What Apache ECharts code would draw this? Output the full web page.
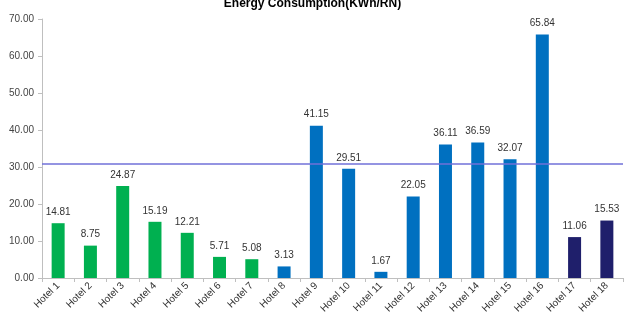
<!DOCTYPE html>
<html>
<head>
<meta charset="utf-8">
<script src="https://cdn.jsdelivr.net/npm/echarts@6/dist/echarts.min.js"></script>
<style>
html,body{margin:0;padding:0;background:#fff;}
#chart{width:625px;height:316px;}
</style>
</head>
<body>
<div id="chart"></div>
<script>
// 酒店名称
const hotels = ['Hotel 1','Hotel 2','Hotel 3','Hotel 4','Hotel 5','Hotel 6','Hotel 7','Hotel 8','Hotel 9',
  'Hotel 10','Hotel 11','Hotel 12','Hotel 13','Hotel 14','Hotel 15','Hotel 16','Hotel 17','Hotel 18'];
// 能耗值
const values = [14.81,8.75,24.87,15.19,12.21,5.71,5.08,3.13,41.15,29.51,1.67,22.05,36.11,36.59,32.07,65.84,11.06,15.53];
// 每根柱子的分组 (g=绿, b=蓝, n=深蓝)
const groups = ['g','g','g','g','g','g','g','b','b','b','b','b','b','b','b','b','n','n'];
const benchmark = 31;

const colorMap = {g:'#00B050', b:'#0070C0', n:'#1F1F6B'};

let mycharts = echarts.init(document.getElementById('chart'));
let options = {
  animation:false,
  title:{
    text:'Energy Consumption(KWh/RN)',
    left:'center',
    top:-7,
    textStyle:{fontSize:12,fontWeight:'bold',color:'#000',fontFamily:'Liberation Sans, Arial'}
  },
  grid:{left:42,right:2,top:19,bottom:34,containLabel:false},
  xAxis:{
    type:'category',
    data:hotels,
    axisLine:{lineStyle:{color:'#bfbfbf',width:1}},
    axisTick:{show:true,alignWithLabel:false,length:4,lineStyle:{color:'#bfbfbf'}},
    axisLabel:{interval:0,rotate:45,fontSize:10,color:'#333',margin:6,fontFamily:'Liberation Sans, Arial'}
  },
  yAxis:{
    type:'value',
    min:0,max:70,interval:10,
    splitLine:{show:false},
    axisLine:{show:true,lineStyle:{color:'#bfbfbf',width:1}},
    axisTick:{show:true,length:4,lineStyle:{color:'#bfbfbf'}},
    axisLabel:{fontSize:10,color:'#444',margin:8,fontFamily:'Liberation Sans, Arial',
      formatter:v=>v.toFixed(2)}
  },
  series:[{
    type:'bar',
    barWidth:13,
    data:values.map((v,i)=>({value:v,itemStyle:{color:colorMap[groups[i]]}})),
    label:{show:true,position:'top',distance:6,fontSize:10,color:'#333',
      fontFamily:'Liberation Sans, Arial',formatter:p=>p.value.toFixed(2)},
    markLine:{
      silent:true,
      symbol:'none',
      label:{show:false},
      lineStyle:{color:'#7070d8',width:1.5,type:'solid',opacity:1},
      emphasis:{disabled:true},
      data:[{yAxis:benchmark}]
    }
  }]
};
mycharts.setOption(options,true);
</script>
</body>
</html>
